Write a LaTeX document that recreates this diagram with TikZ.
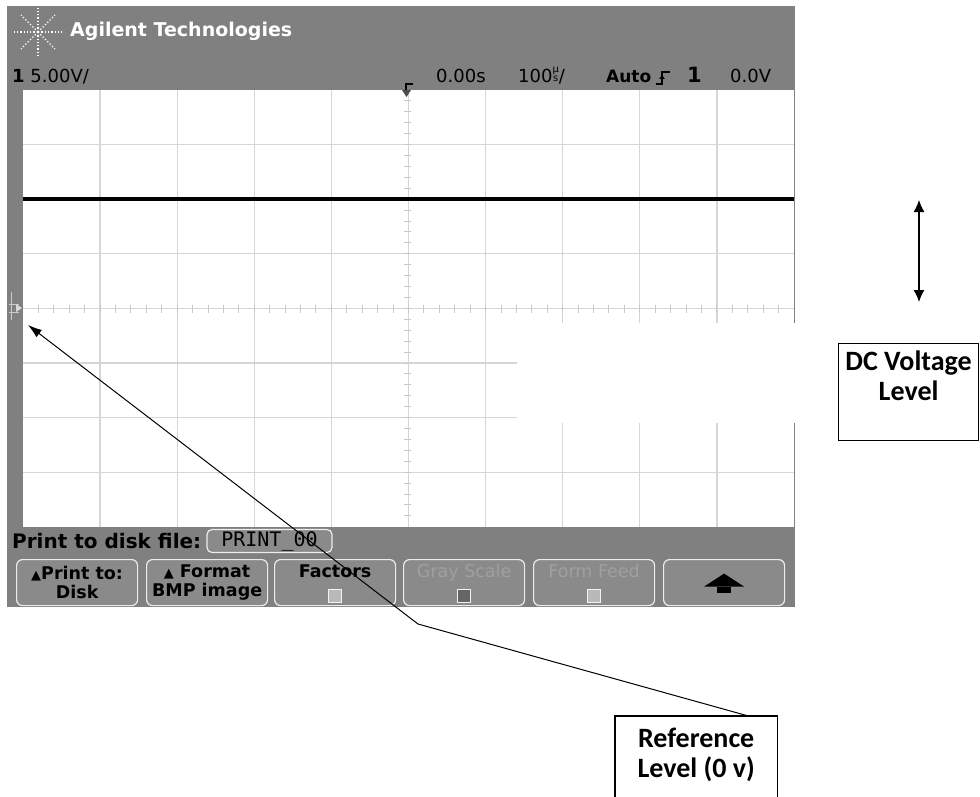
\documentclass[tikz,border=0pt]{standalone}
\usepackage{fontspec}
\setmainfont{DejaVu Sans}
\newfontfamily\notefont{Carlito}
\newfontfamily\printfont{DejaVu Sans Mono}
\usetikzlibrary{arrows.meta,positioning}

\definecolor{screengray}{RGB}{128,128,128}
\definecolor{keygray}{RGB}{138,138,138}
\definecolor{gridgray}{RGB}{214,214,214}
\definecolor{tickgray}{RGB}{200,200,200}
\definecolor{dimtext}{RGB}{160,160,160}

\begin{document}
\begin{tikzpicture}
[x=1pt, y=-1pt,
every node/.style = {inner sep=0pt},
header/.style = {font=\fontsize{19}{20}\selectfont\bfseries, text=white, anchor=west},
readout/.style = {font=\fontsize{18}{20}\selectfont, anchor=base west},
softkey/.style = {draw=gray!15, line width=1.2pt, fill=keygray, rounded corners=6pt,
  minimum width=121pt, minimum height=46pt, anchor=north west, align=center,
  font=\fontsize{17.5}{19}\selectfont\bfseries},
keybox/.style = {draw=gray!10, line width=1pt, minimum size=13pt},
gridline/.style = {gridgray, line width=1.3pt},
tick/.style = {tickgray, line width=1pt},
notebox/.style = {draw, line width=1.2pt, anchor=north west},
note/.style = {font=\notefont\fontsize{28}{30}\selectfont\bfseries, align=center}]

\useasboundingbox (0,0) rectangle (980,797);

% screen and graticule
\fill[screengray] (7,6) rectangle (795,607);
\fill[white] (23,90) rectangle (794,527);
\foreach \i in {1,...,9} \draw[gridline] (23+77.1*\i,90) -- (23+77.1*\i,527);
\foreach \j in {1,...,7} \draw[gridline] (23,90+54.6*\j) -- (794,90+54.6*\j);
\foreach \k in {1,...,49} \draw[tick] (23+15.42*\k,305) -- (23+15.42*\k,313);
\foreach \k in {1,...,39} \draw[tick] (404,90+10.92*\k) -- (411,90+10.92*\k);
\draw[line width=4pt] (23,199) -- (794,199);
\fill[white] (517,323) rectangle (795,423);

% ground marker
\draw[gray!40, line width=1pt] (11,292) -- (11,320) (9,304) -- (19,304) (9,312) -- (19,312);
\fill[gray!30] (16,304) -- (22,308) -- (16,312) -- cycle;

% logo and header
\foreach \a in {0,45,...,315}
  \draw[white, dotted, line width=1.3pt] (38,32) -- ++(\a:24);
\node[header] (brand) at (70,31) {Agilent Technologies};
\node[readout] (scale) at (12,83) {\textbf{1} 5.00V/};
\node[readout] (delay) at (436,83) {0.00s};
\node[readout] (sweep) at (518,83) {100\raisebox{1pt}{\scalebox{.55}{\shortstack{µ\\s}}}/};
\node[readout, font=\fontsize{17}{20}\selectfont\bfseries] (mode) at (606,83) {Auto};
\node[readout, font=\fontsize{21}{22}\selectfont\bfseries] (source) at (687,83) {1};
\node[readout] (level) at (730,83) {0.0V};
\draw[line width=1.3pt] (656,84) -- (662,84) -- (662,72) -- (670,72);
\draw[line width=1pt, -{Latex[length=5pt,width=6pt]}] (662,82) -- (662,74);
\draw[line width=1.3pt] (413,84) -- (406,84) -- (406,92);
\fill[black!70] (402,90) -- (411,90) -- (406.5,97) -- cycle;

% softkey menu
\node[font=\fontsize{20}{20}\selectfont\bfseries, anchor=base west] (disklabel) at (12,548) {Print to disk file:};
\node[draw=gray!15, line width=1.2pt, fill=keygray, rounded corners=5pt, minimum width=125pt,
  minimum height=23pt, font=\printfont\fontsize{20}{20}\selectfont] (filename) at (269.5,541) {PRINT\_00};
\node[softkey] (printto) at (16,559) {\fontsize{13}{13}\selectfont▲\fontsize{17.5}{19}\selectfont Print to:\\Disk};
\node[softkey] (format) at (146,559) {\fontsize{13}{13}\selectfont▲\fontsize{17.5}{19}\selectfont\ Format\\BMP image};
\node[softkey] (factors) at (274,559) {Factors\\\phantom{Ag}};
\node[softkey, text=dimtext, font=\fontsize{17.5}{19}\selectfont] (grayscale) at (403,559) {Gray Scale\\\phantom{Ag}};
\node[softkey, text=dimtext, font=\fontsize{17.5}{19}\selectfont] (formfeed) at (533,559) {Form Feed\\\phantom{Ag}};
\node[softkey] (upkey) at (663,559) {};
\node[keybox, fill=gray!55] at ([yshift=-13pt]factors.center) {};
\node[keybox, fill=black!60] at ([yshift=-13pt]grayscale.center) {};
\node[keybox, fill=gray!55] at ([yshift=-13pt]formfeed.center) {};
\fill ([shift={(-20pt,-4pt)}]upkey.center) -- ([shift={(20pt,-4pt)}]upkey.center)
  -- ([shift={(0pt,9pt)}]upkey.center) -- cycle;
\fill ([shift={(-7pt,-4pt)}]upkey.center) rectangle ([shift={(7pt,-10pt)}]upkey.center);

% annotations
\node[notebox, minimum width=140pt, minimum height=97pt] (dcbox) at (838,343) {};
\node[note, below=8pt of dcbox.north] (dctext) {DC Voltage\\Level};
\coordinate (dctop) at (919,200);
\coordinate (dcbot) at (919,302);
\draw[line width=1.3pt, {Latex[length=12pt,width=11pt]}-{Latex[length=12pt,width=11pt]}] (dctop) -- (dcbot);

\node[minimum width=162pt, minimum height=81pt, anchor=north west] (refbox) at (615,716) {};
\draw[line width=1.2pt] (refbox.south west) -- (refbox.north west) -- (refbox.north east) -- (refbox.south east);
\node[note, below=12pt of refbox.north] (reftext) {Reference\\Level (0 v)};
\coordinate (zeroref) at (28,325);
\coordinate (bend) at (418,624);
\draw[line width=1pt, -{Latex[length=14pt,width=9pt]}] ([xshift=-29pt]refbox.north east) -- (bend) -- (zeroref);

\end{tikzpicture}
\end{document}
